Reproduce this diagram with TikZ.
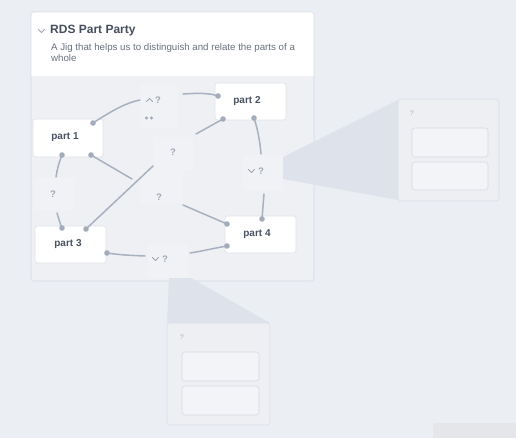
\documentclass[tikz,border=0pt]{standalone}
\usepackage{fontspec}
\setmainfont{Liberation Sans}
\definecolor{bg}{RGB}{235,238,243}
\definecolor{cardbody}{RGB}{238,240,244}
\definecolor{cardline}{RGB}{222,226,232}
\definecolor{relfill}{RGB}{241,242,246}
\definecolor{wedge}{RGB}{222,226,235}
\definecolor{panelfill}{RGB}{237,239,243}
\definecolor{panelline}{RGB}{218,222,229}
\definecolor{innerfill}{RGB}{243,244,247}
\definecolor{innerline}{RGB}{213,217,225}
\definecolor{titlec}{RGB}{70,78,94}
\definecolor{subc}{RGB}{105,112,126}
\definecolor{partc}{RGB}{74,82,98}
\definecolor{qc}{RGB}{160,168,181}
\definecolor{linec}{RGB}{168,177,191}
\definecolor{dotc}{RGB}{163,172,187}
\definecolor{faintbox}{RGB}{228,230,234}
\begin{document}
\begin{tikzpicture}[x=1pt,y=-1pt,
  partbox/.style={draw=cardline,fill=white,rounded corners=2.5,line width=0.6},
  partlabel/.style={font=\bfseries\fontsize{10}{12}\selectfont,text=partc},
  relbox/.style={fill=relfill},
  qlabel/.style={font=\bfseries\fontsize{9.5}{11}\selectfont,text=qc,inner sep=0},
  conn/.style={draw=linec,line width=1.5,line cap=round},
  enddot/.style={fill=dotc},
  chev/.style={draw=qc,line width=0.9,line cap=round,line join=round},
  panel/.style={draw=panelline,fill=panelfill,rounded corners=3,line width=0.6},
  inner/.style={draw=innerline,fill=innerfill,rounded corners=3,line width=0.6}]
\useasboundingbox[fill=bg] (0,0) rectangle (516,438);
% faint box bottom right
\fill[faintbox,rounded corners=2] (433,423) rectangle (520,442);
% card
\path[fill=cardbody,draw=cardline,rounded corners=3,line width=0.6] (31,12) rectangle (314,281);
\begin{scope}
  \clip[rounded corners=3] (31,12) rectangle (314,281);
  \fill[white] (31,12) rectangle (314,76);
\end{scope}
\draw[cardline,line width=0.6,rounded corners=3] (31,12) rectangle (314,281);
\draw[chev] (38.5,29.5) -- (41.5,32.5) -- (44.5,29.5);
\node[anchor=west,inner sep=0,font=\bfseries\fontsize{12}{14}\selectfont,text=titlec] (title) at (50,31) {RDS Part Party};
\node[anchor=north west,inner sep=0,align=left,font=\fontsize{9.7}{11}\selectfont,text=subc] (subtitle) at (51,43) {A Jig that helps us to distinguish and relate the parts of a\\whole};
% wedges
\fill[wedge] (283,157) -- (398,100) -- (398,200) -- (283,179) -- cycle;
\fill[wedge] (169,278) -- (191,278) -- (270,323) -- (167,323) -- cycle;
% panels
\path[panel] (398,99) rectangle (499,201);
\node[qlabel,font=\fontsize{6.5}{7}\selectfont] (rq) at (412,113) {?};
\path[inner] (412,128) rectangle (488,157);
\path[inner] (412,162) rectangle (488,190);
\path[panel] (167,323) rectangle (270,425);
\node[qlabel,font=\fontsize{6.5}{7}\selectfont] (bq) at (182,337) {?};
\path[inner] (182,352) rectangle (259,381);
\path[inner] (182,386) rectangle (259,415);
% relationship boxes
\fill[relbox] (140,85) rectangle (177,128);
\fill[relbox] (153,137) rectangle (193,170);
\fill[relbox] (140,170) rectangle (183,203);
\fill[relbox] (35,178) rectangle (75,210);
\fill[relbox] (243,155) rectangle (283,190);
\fill[relbox] (148,245) rectangle (188,278);
% parts
\node[partbox,minimum width=70,minimum height=38] (p1) at (68,138) {};
\node[partlabel] at (65,137) {part 1};
\node[partbox,minimum width=71,minimum height=37] (p2) at (250.5,101.5) {};
\node[partlabel] at (247,101) {part 2};
\node[partbox,minimum width=71,minimum height=37] (p3) at (70.5,244.5) {};
\node[partlabel] at (68,244) {part 3};
\node[partbox,minimum width=71,minimum height=37] (p4) at (260.5,234.5) {};
\node[partlabel] at (257,234) {part 4};
% relationship labels
\draw[chev] (146.5,101.5) -- (149.5,98.5) -- (152.5,101.5);
\node[qlabel] (rtop) at (158,100) {?};
\fill[qc] (146.5,118) circle (1.6) (151.5,118) circle (1.6);
\node[qlabel] (rc) at (173,152) {?};
\node[qlabel] (rlow) at (159,197) {?};
\node[qlabel] (rleft) at (53,194) {?};
\draw[chev] (248.5,169.5) -- (251.5,172.5) -- (254.5,169.5);
\node[qlabel] (rright) at (261,171) {?};
\draw[chev] (152.5,257.5) -- (155.5,260.5) -- (158.5,257.5);
\node[qlabel] (rbot) at (165,259) {?};
% connector endpoints
\coordinate (a1) at (93,123); \coordinate (a2) at (140,100);
\coordinate (b1) at (183,94); \coordinate (b2) at (218,96);
\coordinate (c1) at (223,119); \coordinate (c2) at (196,134);
\coordinate (d1) at (91,155); \coordinate (d2) at (132,179);
\coordinate (e1) at (86,229); \coordinate (e2) at (153,166);
\coordinate (f1) at (62,155); \coordinate (f2) at (56,177);
\coordinate (g1) at (57,213); \coordinate (g2) at (62,228);
\coordinate (h1) at (183,205); \coordinate (h2) at (227,224);
\coordinate (i1) at (254,118); \coordinate (i2) at (261,154);
\coordinate (j1) at (264,194); \coordinate (j2) at (262,219);
\coordinate (k1) at (107,253); \coordinate (k2) at (145,256);
\coordinate (l1) at (190,253); \coordinate (l2) at (227,246);
% connectors
\draw[conn] (a1) .. controls (110,112) and (125,103) .. (a2);
\draw[conn] (b1) .. controls (198,93) and (210,93) .. (b2);
\draw[conn] (c1) -- (c2);
\draw[conn] (d1) -- (d2);
\draw[conn] (e1) -- (e2);
\draw[conn] (f1) .. controls (59,162) and (57,170) .. (f2);
\draw[conn] (g1) .. controls (59,219) and (60,224) .. (g2);
\draw[conn] (h1) -- (h2);
\draw[conn] (i1) .. controls (258,130) and (260,142) .. (i2);
\draw[conn] (j1) -- (j2);
\draw[conn] (k1) .. controls (120,255) and (133,255.5) .. (k2);
\draw[conn] (l1) .. controls (203,251) and (215,248) .. (l2);
\foreach \p in {a1,b2,c1,d1,e1,f1,g2,h2,i1,j2,k1,l2}
  \fill[enddot] (\p) circle (2.8);
\end{tikzpicture}
\end{document}
